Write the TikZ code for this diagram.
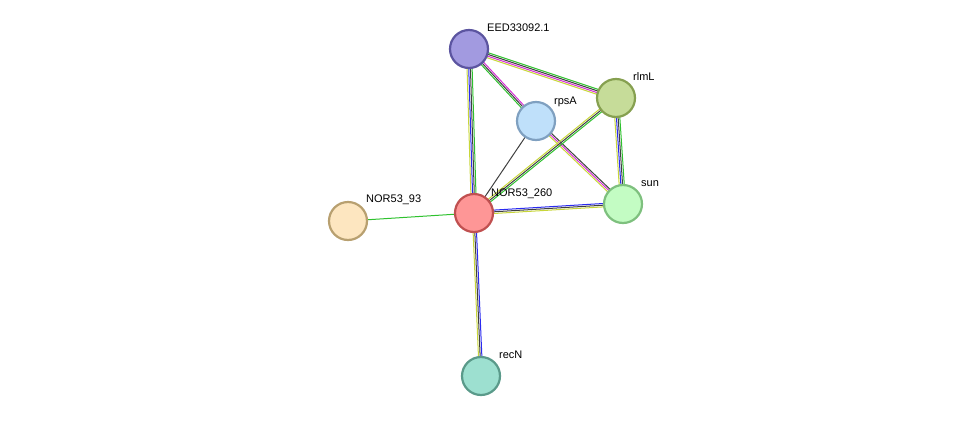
\documentclass[tikz,border=0pt]{standalone}
\usepackage{fontspec}
\setmainfont{Liberation Sans}
\usetikzlibrary{calc}
\definecolor{eyel}{HTML}{C8D639}
\definecolor{emag}{HTML}{D62FD6}
\definecolor{edrk}{HTML}{404040}
\definecolor{egrn}{HTML}{2EC12E}
\definecolor{eblu}{HTML}{2A2AF0}
\newcommand{\medge}[3]{%
  \foreach \c [count=\i] in {#3} {\xdef\ncnt{\i}}%
  \foreach \c [count=\i] in {#3} {%
    \pgfmathsetmacro{\off}{(\i-(\ncnt+1)/2)*1.7}%
    \draw[draw=\c, line width=1pt] ($(#1)!\off pt!90:(#2)$) -- ($(#2)!\off pt!-90:(#1)$);
  }}
\tikzset{
  prot/.style={circle, minimum size=38pt, inner sep=0pt, line width=2.2pt},
  lab/.style={anchor=base west, font=\fontsize{11}{13}\selectfont, inner sep=0pt}
}
\begin{document}
\begin{tikzpicture}[x=1pt,y=-1pt]
\useasboundingbox (0,0) rectangle (975,421);
\coordinate (E) at (469,49);
\coordinate (L) at (616,98);
\coordinate (R) at (536,121);
\coordinate (S) at (623,204);
\coordinate (N) at (474,213);
\coordinate (M) at (348,221);
\coordinate (C) at (481,376);
\medge{E}{L}{eyel,emag,edrk,egrn}
\medge{E}{R}{egrn,edrk,emag}
\medge{R}{S}{eyel,emag,edrk}
\medge{E}{N}{eyel,eblu,edrk,egrn}
\medge{L}{N}{eyel,edrk,egrn}
\medge{L}{S}{eyel,eblu,edrk,egrn}
\medge{R}{N}{edrk}
\medge{N}{S}{eyel,edrk,eblu}
\medge{N}{M}{egrn}
\medge{N}{C}{eyel,edrk,eblu}
\node[prot, fill={rgb,255:red,162;green,154;blue,224}, draw={rgb,255:red,92;green,85;blue,160}] (nE) at (E) {};
\node[prot, fill={rgb,255:red,198;green,220;blue,153}, draw={rgb,255:red,134;green,160;blue,80}] (nL) at (L) {};
\node[prot, fill={rgb,255:red,191;green,224;blue,250}, draw={rgb,255:red,127;green,160;blue,192}] (nR) at (R) {};
\node[prot, fill={rgb,255:red,195;green,252;blue,195}, draw={rgb,255:red,126;green,192;blue,126}] (nS) at (S) {};
\node[prot, fill={rgb,255:red,254;green,150;blue,150}, draw={rgb,255:red,192;green,80;blue,80}] (nN) at (N) {};
\node[prot, fill={rgb,255:red,253;green,230;blue,192}, draw={rgb,255:red,184;green,160;blue,112}] (nM) at (M) {};
\node[prot, fill={rgb,255:red,157;green,224;blue,208}, draw={rgb,255:red,90;green,154;blue,138}] (nC) at (C) {};
\node[lab] (tE) at (487,31) {EED33092.1};
\node[lab] (tL) at (633,80) {rlmL};
\node[lab] (tR) at (554,104) {rpsA};
\node[lab] (tS) at (641,186) {sun};
\node[lab] (tN) at (491,196) {NOR53\_260};
\node[lab] (tM) at (366,202) {NOR53\_93};
\node[lab] (tC) at (499,358) {recN};
\end{tikzpicture}
\end{document}
